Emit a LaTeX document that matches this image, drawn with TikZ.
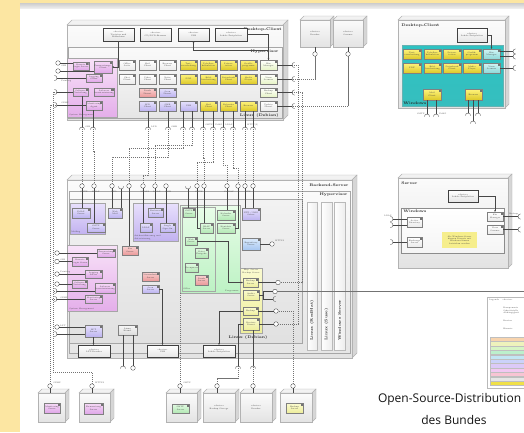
\documentclass[tikz,border=0pt]{standalone}
\usepackage{fontspec}
\newfontfamily\titlefont{Open Sans}
\usetikzlibrary{arrows.meta,calc}
\definecolor{ybg}{HTML}{FCE6A2}
\definecolor{cYt}{HTML}{FFF47E}
\definecolor{cYb}{HTML}{DCC828}
\definecolor{cLt}{HTML}{E6E2FC}
\definecolor{cLb}{HTML}{BDB3F0}
\definecolor{cSt}{HTML}{FAD2D2}
\definecolor{cSb}{HTML}{EA9A9A}
\definecolor{cPt}{HTML}{F6DAF6}
\definecolor{cPb}{HTML}{DFA6E8}
\definecolor{cPr1}{HTML}{F8E2F8}
\definecolor{cPr2}{HTML}{E4AEEA}
\definecolor{cGt}{HTML}{E2FAE2}
\definecolor{cGb}{HTML}{B2E8B4}
\definecolor{grT}{HTML}{E8FCE8}
\definecolor{grB}{HTML}{BDF2C4}
\definecolor{cBt}{HTML}{DCEBFC}
\definecolor{cBb}{HTML}{A6C6F0}
\definecolor{cMb}{HTML}{E6F4C6}
\definecolor{cTt}{HTML}{D2F4F4}
\definecolor{cTb}{HTML}{8ED8D8}
\definecolor{tT}{HTML}{2EC2C2}
\definecolor{tM}{HTML}{BCEEEE}
\definecolor{tB}{HTML}{36BEBE}
\definecolor{lvT}{HTML}{E8E0FC}
\definecolor{lvB}{HTML}{C2B2F0}
\definecolor{ylT}{HTML}{FAFAD0}
\definecolor{ylB}{HTML}{EEEE9C}
\definecolor{nt}{HTML}{F6EE8C}
\definecolor{lg1}{HTML}{F8D4AE}
\definecolor{lg2}{HTML}{EEF2BC}
\definecolor{lg3}{HTML}{D6F4C4}
\definecolor{lg4}{HTML}{BCF0CC}
\definecolor{lg5}{HTML}{C2E6F4}
\definecolor{lg6}{HTML}{CBD2FA}
\definecolor{lg7}{HTML}{DCCAF8}
\definecolor{lg8}{HTML}{F2C8F2}
\definecolor{lg9}{HTML}{F8C4D4}
\definecolor{lg10}{HTML}{E6E6E6}
\definecolor{lg11}{HTML}{F0E048}
\newcommand\mybox[7]{\node[#1,anchor=north west,minimum width={(#5-#3)*1pt},minimum height={(#6-#4)*1pt}] (#2) at (#3,#4) {#7};}
\newcommand\mycube[8]{%
  \filldraw[cubetop] (#3,#4) -- (#3+#7,#4-#7) -- (#5+#7,#4-#7) -- (#5,#4) -- cycle;
  \filldraw[cubeside] (#5,#4) -- (#5+#7,#4-#7) -- (#5+#7,#6-#7) -- (#5,#6) -- cycle;
  \mybox{#1}{#2}{#3}{#4}{#5}{#6}{#8}}
\newcommand\sockt[4]{\coordinate (#1) at (#2,#3);
  \draw[sockst,rotate around={#4:(#2,#3)}] (#2-2.6,#3+2.6) arc[start angle=180,end angle=360,radius=2.6];}
\begin{document}
\begin{tikzpicture}[x=1pt,y=-1pt,
  every node/.style={inner sep=0.3pt,outer sep=0pt,font=\fontsize{2}{2.4}\selectfont,align=center,text=black!75},
  lbl/.style={font=\bfseries\fontsize{3.8}{4.4}\selectfont,inner sep=0.4pt,text=black!85},
  slbl/.style={font=\fontsize{2}{2.4}\selectfont,inner sep=0.3pt,text=black!70},
  comp/.style={draw=black!50,line width=0.25pt,path picture={\draw[black!55,line width=0.15pt] ([xshift=-2.4pt,yshift=-0.7pt]path picture bounding box.north east) rectangle ++(1.3pt,-1.7pt);}},
  kw/.style={comp,top color=white,bottom color=gray!16},
  ky/.style={comp,top color=cYt,bottom color=cYb},
  kl/.style={comp,top color=cLt,bottom color=cLb},
  ks/.style={comp,top color=cSt,bottom color=cSb},
  kp/.style={comp,top color=cPt,bottom color=cPb},
  kg/.style={comp,top color=cGt,bottom color=cGb},
  kb/.style={comp,top color=cBt,bottom color=cBb},
  km/.style={comp,top color=white,bottom color=cMb},
  kt/.style={comp,top color=cTt,bottom color=cTb},
  kyl/.style={comp,top color=ylT,bottom color=ylB},
  kgy/.style={comp,top color=gray!6,bottom color=gray!28},
  knote/.style={fill=nt},
  dev/.style={draw=black!75,line width=0.5pt,top color=white,bottom color=gray!20},
  region/.style={draw=black!35,line width=0.3pt},
  hypreg/.style={region,top color=gray!4,bottom color=gray!20},
  linreg/.style={region,top color=gray!10,bottom color=gray!24},
  pinkreg/.style={region,top color=cPr1,bottom color=cPr2},
  lavreg/.style={region,top color=lvT,bottom color=lvB},
  grnreg/.style={region,top color=grT,bottom color=grB},
  ylreg/.style={region,top color=ylT,bottom color=ylB},
  tealreg/.style={region,draw=teal!60,top color=tT,middle color=tM,bottom color=tB},
  winreg/.style={region,draw=black!45,top color=white,bottom color=gray!8},
  colst/.style={region,draw=gray!55,left color=white,right color=gray!14},
  cubefront/.style={draw=gray!60,line width=0.4pt,top color=gray!3,bottom color=gray!22},
  cubetop/.style={fill=gray!10,draw=gray!60,line width=0.4pt},
  cubeside/.style={fill=gray!32,draw=gray!60,line width=0.4pt},
  conn/.style={draw=black!72,line width=0.4pt},
  arr/.style={conn,-{Stealth[length=2pt,width=1.6pt]}},
  dconn/.style={draw=black!55,line width=0.35pt,dash pattern=on 1.2pt off 0.8pt},
  lolli/.style={circle,draw=black!72,fill=white,minimum size=4.6pt,inner sep=0pt,line width=0.35pt},
  sockst/.style={draw=black!72,line width=0.35pt},
  legst/.style={draw=gray!55,fill=white,line width=0.3pt}]
\useasboundingbox (0,0) rectangle (524,432);
\fill[white] (0,0) rectangle (524,432);
\fill[ybg] (0,0) rectangle (20,432);
\fill[ybg] (20,0) rectangle (524,3);
\shade[top color=gray!40,bottom color=gray!14] (20,3) rectangle (524,8);

% ================= Desktop-Client (Linux)
\mycube{cubefront}{dcl}{67}{25}{283}{120}{5}{}
\node[lbl,anchor=north east] (dclT) at (282,27) {Desktop-Client};
\mybox{dev}{dv1}{103}{28}{134}{41}{«device»\\Tastatur und\\Bildschirm}
\mybox{dev}{dv2}{140}{28}{171}{41}{«device»\\CD/DVD-Brenner}
\mybox{dev}{dv3}{178}{28}{209}{41}{«device»\\USB}
\mybox{dev}{dv4}{215}{28}{247}{41}{«device»\\Lokale Festplatten}
\mybox{hypreg}{hv1}{68}{47}{282}{118}{}
\node[lbl,anchor=north east] (hv1T) at (279,49) {Hypervisor};
\node[lbl,anchor=south east] (ld1T) at (279,118) {Linux (Debian)};
\mybox{pinkreg}{pk1}{67}{58}{117}{117}{}
\node[slbl,anchor=south west] (pk1T) at (69,116) {System Management};
\mybox{kp}{p1}{73}{62}{88}{70}{Remote\\Login Server}
\mybox{kp}{p2}{94}{61}{112}{73}{Fernwartungs-\\Client}
\mybox{kp}{p3}{86}{74}{102}{82}{Logging\\Client}
\mybox{kp}{p4}{73}{88}{88}{96}{Software\\Verteilung}
\mybox{kp}{p5}{94}{88}{113}{96}{Software\\Inventarisierung}
\mybox{kp}{p6}{86}{101}{102}{110}{Monitoring\\Agent}
% grid
\mybox{kw}{r1c1}{119}{60}{135}{70}{Office\\Suite}
\mybox{kw}{r1c2}{139}{60}{156}{70}{Mail\\Client}
\mybox{kw}{r1c3}{159}{60}{176}{70}{Browser\\Client}
\mybox{ky}{r1c4}{180}{60}{197}{70}{Text-\\verarbeitung}
\mybox{ky}{r1c5}{200}{60}{217}{70}{Tabellen-\\kalkulation}
\mybox{ky}{r1c6}{220}{60}{237}{70}{Präsen-\\tation}
\mybox{ky}{r1c7}{240}{60}{257}{70}{Grafik-\\programm}
\mybox{km}{r1c8}{260}{60}{277}{70}{Ein\\Manager}
\mybox{kw}{r2c1}{119}{74}{135}{84}{Chat\\Client}
\mybox{kw}{r2c2}{139}{74}{156}{84}{Video\\Client}
\mybox{kw}{r2c3}{159}{74}{176}{84}{Notiz\\Client}
\mybox{ky}{r2c4}{180}{74}{197}{84}{PDF}
\mybox{ky}{r2c5}{200}{74}{217}{84}{Bild-\\bearbeitung}
\mybox{ky}{r2c6}{220}{74}{237}{84}{Datenbank\\Client}
\mybox{ky}{r2c7}{240}{74}{257}{84}{Media\\Player}
\mybox{km}{r2c8}{260}{74}{277}{84}{Virus\\Scanner}
\mybox{ks}{r3c2}{139}{88}{156}{97}{Druck\\Dienst}
\mybox{kl}{r3c3}{159}{88}{176}{97}{Scan\\Dienst}
\mybox{km}{r3c8}{260}{88}{277}{97}{Backup\\Client}
\mybox{kl}{r4c2}{139}{101}{156}{111}{LPD\\Client}
\mybox{kl}{r4c3}{159}{101}{176}{111}{SMB\\Client}
\mybox{kl}{r4c4}{180}{101}{197}{111}{USB}
\mybox{ky}{r4c5}{200}{101}{217}{111}{Mail\\Client}
\mybox{ky}{r4c6}{220}{101}{237}{111}{Kalender\\Client}
\mybox{ky}{r4c7}{240}{101}{257}{111}{Browser}
\mybox{kw}{r4c8}{260}{101}{277}{111}{Update\\Dienst}
% device arrows
\draw[arr] (dv1.south) |- (p2.east);
\draw[arr] (dv4.east) -| (r1c8.north);
\draw[arr] (r1c8.north) -- ++(0,-10) -| (dv3.south);
% left interfaces
\node[lolli] (L1) at (58,63) {};
\node[lolli] (L2) at (58,71) {};
\sockt{sL3}{57}{78}{-90}
\sockt{sL4}{57}{92}{-90}
\sockt{sL5}{57}{105}{-90}
\draw[conn] (L1) -- (L1 -| p1.west);
\draw[conn] (L2) -- (L2 -| p2.west);
\draw[conn] (sL3) -- (sL3 -| p3.west);
\draw[conn] (sL4) -- (sL4 -| p4.west);
\draw[conn] (sL5) -- (sL5 -| p6.west);
\node[slbl,anchor=north west] (tSSH) at (61,65) {SSH};
\node[slbl,anchor=north west] (tPrt) at (61,80) {Printing};
\node[slbl,anchor=south west] (tSNMP) at (61,104) {SNMP};
% right interfaces
\sockt{sR1}{292}{65}{90}
\sockt{sR2}{292}{79}{90}
\sockt{sR3}{292}{92.5}{90}
\sockt{sR4}{292}{106}{90}
\draw[conn] (r1c8.east) -- (sR1);
\draw[conn] (r2c8.east) -- (sR2);
\draw[conn] (r3c8.east) -- (sR3);
\draw[conn] (r4c8.east) -- (sR4);
% bottom sockets
\sockt{DB1}{82}{127}{0}
\sockt{DB2}{93}{127}{0}
\sockt{DB3}{148}{127}{0}
\sockt{DB4}{168}{127}{0}
\sockt{DB5}{183}{127}{0}
\sockt{DB6}{192}{127}{0}
\sockt{DB7}{203}{127}{0}
\sockt{DB8}{213}{127}{0}
\sockt{DB9}{223}{127}{0}
\sockt{DB10}{233}{127}{0}
\sockt{DB11}{245}{127}{0}
\sockt{DB12}{253}{127}{0}
\draw[conn] (DB1 |- p4.south) -- (DB1);
\draw[conn] (DB2 |- p6.south) -- (DB2);
\draw[conn] (DB3 |- r4c2.south) -- (DB3);
\draw[conn] (DB4 |- r4c3.south) -- (DB4);
\draw[conn] (DB5 |- r4c4.south) -- (DB5);
\draw[conn] (DB6 |- r4c4.south) -- (DB6);
\draw[conn] (DB7 |- r4c5.south) -- (DB7);
\draw[conn] (DB8 |- r4c5.south) -- (DB8);
\draw[conn] (DB9 |- r4c6.south) -- (DB9);
\draw[conn] (DB10 |- r4c6.south) -- (DB10);
\draw[conn] (DB11 |- r4c7.south) -- (DB11);
\draw[conn] (DB12 |- r4c7.south) -- (DB12);
\node[slbl,anchor=west] (tDB1) at (85,127) {SSH};
\node[slbl,anchor=west] (tDB3) at (151,127) {LPD};
\node[slbl,anchor=west] (tDB4) at (171,127) {SMB};
\node[slbl,anchor=west] (tDB7) at (205,125) {SMTP};
\node[slbl,anchor=west] (tDB8) at (215,125) {IMAP};
\node[slbl,anchor=west] (tDB9) at (225,125) {LDAP};
\node[slbl,anchor=west] (tDB11) at (247,125) {HTTP(S)};

% ================= Drucker / Scanner
\mycube{cubefront}{pr1}{300}{20}{330}{47}{4}{«device»\\Drucker}
\mycube{cubefront}{pr2}{333}{20}{363}{47}{4}{«device»\\Scanner}
\node[lolli] (lp1) at (315,54) {};
\node[lolli] (lp2) at (348,54) {};
\draw[conn] (pr1.south) -- (lp1);
\draw[conn] (pr2.south) -- (lp2);
\draw[dconn] (lp1) |- (sR2);
\draw[dconn] (lp2) |- (sR4);

% ================= Backend-Server
\mycube{cubefront}{bsv}{67}{180}{352}{358}{5}{}
\node[lbl,anchor=north east] (bsvT) at (349,183) {Backend-Server};
\mybox{hypreg}{hv2}{69}{191}{350}{353}{}
\node[lbl,anchor=north east] (hv2T) at (348,192) {Hypervisor};
\mybox{linreg}{ld2}{69}{199}{302}{343}{}
\mybox{colst}{crh}{307}{202}{317}{350}{}
\mybox{colst}{csu}{321}{202}{332}{350}{}
\mybox{colst}{cws}{334}{202}{345}{350}{}
\node[lbl,rotate=90,anchor=west] (crhT) at (312,341) {Linux (RedHat)};
\node[lbl,rotate=90,anchor=west] (csuT) at (326.5,341) {Linux (Suse)};
\node[lbl,rotate=90,anchor=west] (cwsT) at (339.5,341) {Windows Server};
% regions
\mybox{lavreg}{lv1}{70}{203}{105}{234}{}
\node[slbl,anchor=south west] (lv1T) at (71,233) {Mailing};
\mybox{lavreg}{lv2}{133}{203}{178}{241}{}
\node[slbl,anchor=south west,align=left] (lv2T) at (134,240) {Authentifizierung und\\Autorisierung};
\mybox{grnreg}{gr}{180}{205}{240}{293}{}
\mybox{grnreg}{grin}{182}{207}{215}{291}{}
\node[slbl,anchor=south west] (grinT) at (183,290) {Office};
\node[slbl,anchor=south east] (grT) at (239,292) {Programme};
\mybox{pinkreg}{pk2}{67}{245}{117}{311}{}
\node[slbl,anchor=south west] (pk2T) at (69,310) {System Management};
\mybox{ylreg}{yl}{240}{268}{262}{333}{}
\node[slbl,anchor=north] (ylT1) at (251,269) {Bkp. Server\\Backup Server};
\node[lbl] (ld2T) at (248,338) {Linux (Debian)};
% boxes
\mybox{kl}{b1}{72}{208}{90}{218}{IMAP\\Server}
\mybox{kl}{b2}{87}{223}{105}{232}{SMTP\\Server}
\mybox{kl}{b3}{108}{208}{122}{218}{Web\\Mail}
\mybox{kl}{b4}{140}{223}{152}{232}{LDAP}
\mybox{kl}{b5}{148}{208}{163}{217}{Kerberos\\Server}
\mybox{kl}{b6}{160}{223}{175}{232}{Single\\Sign-On}
\mybox{ks}{b7}{122}{246}{138}{255}{Fax\\Server}
\mybox{kg}{g1}{183}{208}{195}{217}{SMTP\\Server}
\mybox{kg}{g2}{200}{223}{213}{233}{IMAP\\Server}
\mybox{kg}{g3}{185}{237}{197}{245}{Web\\Server}
\mybox{kg}{g4}{195}{248}{208}{258}{Datei\\Freigabe}
\mybox{kg}{g5}{185}{263}{198}{272}{Groupware}
\mybox{ks}{g6}{195}{275}{208}{285}{Druck\\Server}
\mybox{kg}{g7}{217}{210}{235}{220}{Kalender\\Server}
\mybox{kg}{g8}{217}{223}{235}{233}{Kontakte\\Server}
\mybox{kl}{b8}{242}{208}{260}{220}{NTP / DNS\\Server}
\mybox{kb}{b9}{242}{238}{260}{250}{Repository\\Server}
\mybox{kp}{q1}{97}{249}{115}{257}{Fernwartung\\Server}
\mybox{kp}{q2}{72}{257}{88}{266}{Remote\\Login Server}
\mybox{kp}{q3}{85}{270}{102}{278}{Logging\\Server}
\mybox{kp}{q4}{72}{280}{87}{288}{Software\\Verteilung}
\mybox{kp}{q5}{95}{283}{115}{293}{Software\\Inventarisierung}
\mybox{kp}{q6}{85}{295}{102}{303}{Monitoring\\Server}
\mybox{ks}{b11}{142}{272}{159}{281}{Virenschutz\\Server}
\mybox{kl}{b12}{142}{285}{159}{293}{Scan\\Server}
\mybox{kyl}{y1}{243}{278}{258}{287}{Backup\\Server}
\mybox{kyl}{y2}{243}{290}{259}{300}{Archiv\\Server}
\mybox{kyl}{y3}{243}{307}{258}{315}{Backup}
\mybox{kyl}{y4}{243}{318}{259}{330}{Restore\\Dienst}
\mybox{kl}{b10}{85}{325}{102}{337}{LPT\\Server}
\mybox{kgy}{b13}{118}{325}{137}{335}{Linux\\Kernel}
\mybox{dev}{dB1}{78}{345}{110}{357}{«device»\\LPT-Drucker}
\mybox{dev}{dB2}{147}{345}{178}{357}{«device»\\USB}
\mybox{dev}{dB3}{203}{345}{235}{357}{«device»\\Lokale Festplatten}
% top interfaces of backend
\node[lolli] (T1) at (82,186) {};
\node[lolli] (T2) at (94,186) {};
\node[lolli] (T3) at (112,186) {};
\sockt{TS4}{121}{189}{180}
\node[lolli] (T5) at (129,186) {};
\node[lolli] (T6) at (143,186) {};
\node[lolli] (T7) at (155,186) {};
\node[lolli] (T8) at (166,186) {};
\sockt{TS9}{188}{189}{180}
\node[lolli] (T10) at (197,186) {};
\node[lolli] (T11) at (204,186) {};
\node[lolli] (T12) at (227,186) {};
\node[lolli] (T13) at (238,186) {};
\node[lolli] (T14) at (245,186) {};
\node[lolli] (T15) at (253,186) {};
\draw[conn] (T1) -- (T1 |- b1.north);
\draw[conn] (T2) -- (T2 |- b2.north);
\draw[conn] (T3) -- (T3 |- b3.north);
\draw[conn] (TS4) -- (TS4 |- b3.north);
\draw[conn] (T5) -- (T5 |- b7.north);
\draw[conn] (T6) -- (T6 |- b4.north);
\draw[conn] (T7) -- (T7 |- b5.north);
\draw[conn] (T8) -- (T8 |- b6.north);
\draw[conn] (TS9) -- (TS9 |- g1.north);
\draw[conn] (T10) |- (g2.west);
\draw[conn] (T11) -- (T11 |- g2.north);
\draw[conn] (T12) -- (T12 |- g7.north);
\draw[conn] (T13) |- (g8.east);
\draw[conn] (T14) -- (T14 |- b8.north);
\draw[conn] (T15) -- (T15 |- b8.north);
\node[slbl,anchor=north] (tT1) at (84,191) {SMTP};
\node[slbl,anchor=north] (tT2) at (96,191) {IMAP};
\node[slbl,anchor=north] (tT3) at (114,191) {LPD};
\node[slbl,anchor=north] (tT6) at (145,191) {LDAPS};
\node[slbl,anchor=north] (tT7) at (157,191) {LDAP};
\node[slbl,anchor=north] (tT8) at (168,191) {SMB};
\node[slbl,anchor=north] (tT10) at (199,191) {SMTP};
\node[slbl,anchor=north] (tT12) at (229,191) {CalDAV};
\node[slbl,anchor=north] (tT14) at (248,191) {NTP};
% desktop -> backend
\draw[dconn] (DB1) -- (T1);
\draw[dconn] (DB2) -- ++(0,24) -| (T2);
\draw[dconn] (DB3) -- ++(0,48) -| (T6);
\draw[dconn] (DB4) -- ++(0,30) -| (T3);
\draw[dconn] (DB5) -- ++(0,21) -| (T5);
\draw[dconn] (DB6) -- ++(0,18) -| (T7);
\draw[dconn] (DB7) -- ++(0,31) -| (T11);
\draw[dconn] (DB8) -- ++(0,35) -| (T10);
\draw[dconn] (DB9) -- ++(0,38) -| (T12);
\draw[dconn] (DB10) -- ++(0,41) -| (T13);
\draw[dconn] (DB11) -- (T14);
\draw[dconn] (DB12) -- (T15);
% internal connectors
\draw[arr] (g3.east) -- (228,241) |- (y1.west);
\node[lolli] (lbb) at (272,244) {};
\draw[conn] (b9.east) -- (lbb);
\node[slbl,anchor=west] (tlbb) at (275,241) {HTTPS};
% left interfaces of backend
\node[lolli] (ql1) at (57,253) {};
\node[lolli] (ql2) at (57,261.5) {};
\node[lolli] (ql3) at (57,274) {};
\node[lolli] (ql4) at (57,284) {};
\sockt{qs5}{57}{291}{-90}
\sockt{qs6}{57}{299}{-90}
\node[lolli] (ql7) at (57,327) {};
\sockt{qs8}{57}{334}{-90}
\draw[conn] (ql1) -- (ql1 -| q1.west);
\draw[conn] (ql2) -- (ql2 -| q2.west);
\draw[conn] (ql3) -- (ql3 -| q3.west);
\draw[conn] (ql4) -- (ql4 -| q4.west);
\draw[conn] (qs5) -- (qs5 -| q5.west);
\draw[conn] (qs6) -- (qs6 -| q6.west);
\draw[conn] (ql7) -- (ql7 -| b10.west);
\draw[conn] (qs8) -- (qs8 -| b10.west);
\node[slbl,anchor=south west] (tqs) at (60,261) {SSH};
\node[slbl,anchor=south west] (tqp) at (60,273.5) {Printing};
\node[slbl,anchor=south west] (tqn) at (60,298.5) {SNMP};
\node[slbl,anchor=south west] (tql) at (60,326.5) {LPT};
% yellow region interfaces
\node[lolli] (yo1) at (278,282.5) {};
\node[lolli] (yo2) at (275,291.5) {};
\sockt{yo5}{273}{299}{90}
\node[lolli] (yo3) at (276,311) {};
\node[lolli] (yo4) at (276,324) {};
\draw[conn] (y1.east) -- (yo1);
\draw[conn] (y2.east) -- ++(4,0) |- (yo2);
\draw[conn] (y2.east) -- ++(4,0) |- (yo5);
\draw[conn] (y3.east) -- (yo3);
\draw[conn] (y4.east) -- (yo4);
\coordinate (edgeR) at (524,291.5);
\draw[dconn] (yo2) -- (edgeR);
\draw[dconn] (sR1) -- ++(6,0) |- (yo4);
\draw[dconn] (sR3) -- ++(10,0) |- (yo1);
% bottom of backend
\draw[arr] (b10.south) -- (b10.south |- dB1.north);
\sockt{sockB1}{123}{366}{0}
\node[lolli] (lB2) at (133,368) {};
\draw[conn] (sockB1 |- b13.south) -- (sockB1);
\draw[conn] (lB2 |- b13.south) -- (lB2);
\draw[arr] (b12.east) -| (dB2.north);
\draw[arr] (y3.west) -| (dB3.north);
\sockt{sockYA}{238}{366}{0}
\sockt{sockYB}{253}{366}{0}
\draw[conn] (y4.west) -| (sockYA);
\draw[conn] (sockYB |- y4.south) -- (sockYB);

% ================= bottom devices
\mycube{cubefront}{bd1}{38}{393}{65}{422}{4}{}
\mybox{kp}{bd1i}{44}{403}{60}{413}{Monitoring\\Server}
\mycube{cubefront}{bd2}{79}{393}{110}{422}{4}{}
\mybox{kp}{bd2i}{84}{403}{103}{414}{Fernwartung\\Server}
\mycube{cubefront}{bd3}{166}{393}{197}{422}{4}{}
\mybox{kg}{bd3i}{172}{404}{189}{413}{SMTP\\Server}
\mycube{cubefront}{bd4}{203}{393}{235}{422}{4}{«device»\\Backup Storage}
\mycube{cubefront}{bd5}{240}{393}{272}{422}{4}{«device»\\Drucker}
\mycube{cubefront}{bd6}{280}{393}{312}{422}{4}{}
\mybox{kyl}{bd6i}{286}{403}{303}{413}{Backup\\Server}
\node[lolli] (lb1) at (50,386) {};
\node[lolli] (lb2) at (92,386) {};
\node[lolli] (lb3) at (180,386) {};
\node[lolli] (lb4) at (217,386) {};
\node[lolli] (lb5) at (253,386) {};
\node[lolli] (lb6) at (293,386) {};
\draw[conn] (lb1) -- (lb1 |- bd1.north);
\draw[conn] (lb2) -- (lb2 |- bd2.north);
\draw[conn] (lb3) -- (lb3 |- bd3.north);
\draw[conn] (lb4) -- (lb4 |- bd4.north);
\draw[conn] (lb5) -- (lb5 |- bd5.north);
\draw[conn] (lb6) -- (lb6 |- bd6.north);
\node[slbl,anchor=west] (tlb1) at (53,383) {SNMP};
\node[slbl,anchor=west] (tlb2) at (95,383) {HTTPS};
\node[slbl,anchor=west] (tlb3) at (183,383) {SMTP};
\coordinate (k1) at (53,372);
\coordinate (k2) at (238,378);
\draw[dconn] (lb1) |- (sL5);
\draw[dconn] (qs6) -- (qs6 -| lb1);
\draw[dconn] (lb2) |- (k1) |- (sL4);
\draw[dconn] (qs5) -- (qs5 -| k1);
\draw[dconn] (lb3) -- (lb3 |- gr.south);
\draw[dconn] (lb4) |- (k2) -- (sockYA);
\draw[dconn] (lb5) -- (sockYB);
\draw[dconn] (lb6) |- (yo3);

% ================= Server (Windows)
\mycube{cubefront}{srv}{398}{178}{508}{268}{4}{}
\node[lbl,anchor=north west] (srvT) at (401,181) {Server};
\mybox{dev}{sdv}{448}{190}{478}{202}{«device»\\Lokale Festplatten}
\mybox{winreg}{swr}{401}{208}{504}{253}{}
\node[lbl,anchor=north west] (swrT) at (403,209) {Windows};
\mybox{kw}{sw1}{407}{217}{422}{227}{Active\\Directory}
\mybox{kw}{sw2}{407}{237}{422}{247}{Exchange\\Server}
\mybox{kw}{sw3}{487}{212}{503}{221}{Ein\\Manager}
\mybox{kw}{sw4}{487}{225}{503}{234}{Virus\\Scanner}
\mybox{knote}{snote}{442}{232}{477}{248}{Als Windows-Server\\können Dienste mit\\Windows-Lizenz\\betrieben werden}
\draw[arr] (sdv.east) -| (sw3.north);
\sockt{sS1}{393}{219}{-90}
\sockt{sS2}{393}{225}{-90}
\sockt{sS3}{393}{242}{-90}
\draw[conn] (sS1) -- (sS1 -| sw1.west);
\draw[conn] (sS2) -- (sS2 -| sw1.west);
\draw[conn] (sS3) -- (sS3 -| sw2.west);
\sockt{sS4}{518}{216.5}{90}
\sockt{sS5}{518}{229.5}{90}
\draw[conn] (sw3.east) -- (sS4);
\draw[conn] (sw4.east) -- (sS5);
\node[slbl,anchor=south east] (tsS1) at (392,217) {LDAP};
\node[slbl,anchor=south west] (tsS4) at (509,215) {Backup};

% ================= Desktop-Client (Windows)
\mycube{cubefront}{dcw}{398}{20}{505}{108}{4}{}
\node[lbl,anchor=north west] (dcwT) at (401,23) {Desktop-Client};
\mybox{dev}{dvw}{457}{28}{487}{42}{«device»\\Lokale Festplatten}
\mybox{tealreg}{tw}{402}{45}{503}{106}{}
\node[lbl,anchor=south west] (twT) at (403,105) {Windows};
\mybox{ky}{wa1}{403}{49}{421}{59}{Text-\\verarbeitung}
\mybox{ky}{wa2}{424}{49}{441}{59}{Tabellen-\\kalkulation}
\mybox{ky}{wa3}{443}{49}{461}{59}{Präsen-\\tation}
\mybox{ky}{wa4}{463}{49}{481}{59}{Grafik-\\programm}
\mybox{kt}{wa5}{483}{49}{500}{59}{Ein\\Manager}
\mybox{ky}{wb1}{403}{63}{421}{73}{PDF}
\mybox{ky}{wb2}{424}{63}{441}{73}{Bild-\\bearbeitung}
\mybox{ky}{wb3}{443}{63}{461}{73}{Datenbank\\Client}
\mybox{ky}{wb4}{463}{63}{481}{73}{Media\\Player}
\mybox{kt}{wb5}{483}{63}{500}{73}{Virus\\Scanner}
\mybox{ky}{wc1}{423}{89}{441}{100}{Mail\\Client}
\mybox{ky}{wc2}{465}{89}{482}{100}{Browser}
\draw[arr] (dvw.east) -| (wa5.north);
\sockt{sW1}{513}{51.5}{90}
\sockt{sW2}{513}{56.5}{90}
\sockt{sW3}{513}{68}{90}
\draw[conn] (sW1 -| wa5.east) -- (sW1);
\draw[conn] (sW2 -| wa5.east) -- (sW2);
\draw[conn] (sW3 -| wb5.east) -- (sW3);
\sockt{sW4}{427}{114}{0}
\sockt{sW5}{436}{114}{0}
\draw[conn] (sW4 |- wc1.south) -- (sW4);
\draw[conn] (sW5 |- wc1.south) -- (sW5);
\sockt{sW6}{468}{113}{0}
\sockt{sW7}{478}{113}{0}
\sockt{sW8}{473}{121}{0}
\draw[conn] (sW6 |- wc2.south) -- (sW6);
\draw[conn] (sW7 |- wc2.south) -- (sW7);
\draw[conn] (sW8 |- wc2.south) -- (sW8);
\node[slbl,anchor=east] (tsW4) at (425,114) {SMTP};
\node[slbl,anchor=west] (tsW5) at (439,114) {IMAP};

% ================= Legend
\mybox{legst}{lgd}{487}{297}{527}{388}{}
\node[slbl,anchor=north west] (lgT) at (489,299) {Legende};
\node[slbl,anchor=north west] (lgA) at (502,299) {«device»};
\node[slbl,anchor=north west,align=left] (lgB) at (503,307) {Komponente\\Schnittstelle\\Abhängigkeit};
\node[slbl,anchor=north west] (lgC) at (503,320) {Knoten};
\node[slbl,anchor=north west] (lgD) at (503,328) {Hinweis};
\foreach \c [count=\i] in {lg1,lg2,lg3,lg4,lg5,lg6,lg7,lg8,lg9,lg10,lg11}
  \node[fill=\c,draw=gray!50,line width=0.2pt,anchor=north west,minimum width=36pt,minimum height=4.3pt] (bar\i) at (490,{337+(\i-1)*4.4}) {};

% ================= Title
\node[font=\titlefont\fontsize{12}{14}\selectfont,text=black!92,anchor=west,inner sep=0pt] (tt1) at (378,399) {Open-Source-Distribution};
\node[font=\titlefont\fontsize{12}{14}\selectfont,text=black!92,inner sep=0pt] (tt2) at (454,420) {des Bundes};
\end{tikzpicture}
\end{document}
